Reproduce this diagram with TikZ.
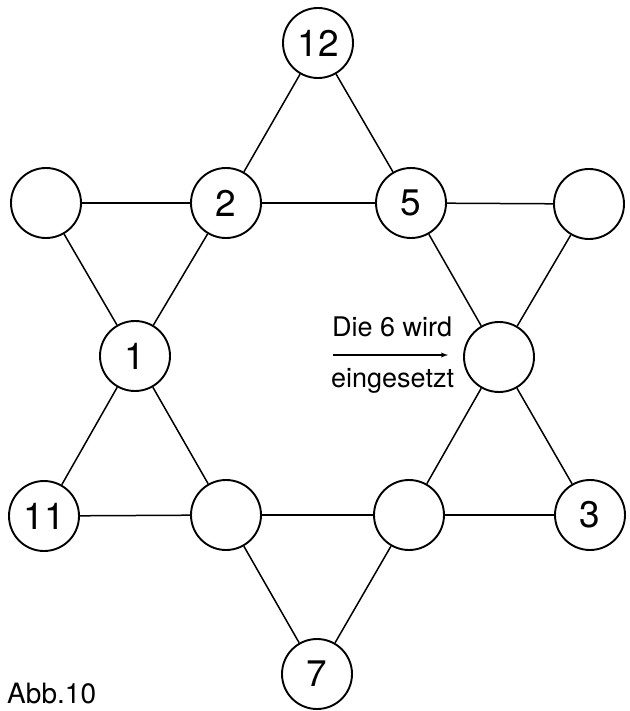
\documentclass[tikz,border=0pt]{standalone}
\usepackage{fontspec}
\setmainfont{TeX Gyre Heros}
\usetikzlibrary{arrows,shapes,positioning}

\begin{document}
\begin{tikzpicture}[x=1pt,y=-1pt]
                \tikzstyle{every node}+=[inner sep=0pt]
                \tikzstyle{field}=[draw=black,circle,line width=1.9pt,minimum size=70pt,font=\fontsize{37}{37}\selectfont]
                \tikzstyle{link}=[black,line width=1.5pt]
                \useasboundingbox (0,0) rectangle (629,711);
                \node [field] (v1) at (318,43) {12};
                \node [field] (v2) at (46,203) {};
                \node [field] (v3) at (226,203) {2};
                \node [field] (v4) at (411,203) {5};
                \node [field] (v5) at (589,204) {};
                \node [field] (v6) at (135,356) {1};
                \node [field] (v7) at (499,357) {};
                \node [field] (v8) at (44,516) {11};
                \node [field] (v9) at (226,515) {};
                \node [field] (v10) at (409,515) {};
                \node [field] (v11) at (590,515) {3};
                \node [field] (v12) at (317,674) {7};
                \draw [link] (v1) -- (v3);
                \draw [link] (v3) -- (v6);
                \draw [link] (v6) -- (v8);
                \draw [link] (v8) -- (v9);
                \draw [link] (v9) -- (v10);
                \draw [link] (v10) -- (v11);
                \draw [link] (v11) -- (v7);
                \draw [link] (v7) -- (v4);
                \draw [link] (v4) -- (v1);
                \draw [link] (v2) -- (v3);
                \draw [link] (v3) -- (v4);
                \draw [link] (v4) -- (v5);
                \draw [link] (v5) -- (v7);
                \draw [link] (v7) -- (v10);
                \draw [link] (v10) -- (v12);
                \draw [link] (v12) -- (v9);
                \draw [link] (v9) -- (v6);
                \draw [link] (v6) -- (v2);
                \node [anchor=base west,font=\fontsize{27}{27}\selectfont] (upper) at (332,336) {Die 6 wird};
                \node [anchor=base west,font=\fontsize{27}{27}\selectfont] (lower) at (331,387) {eingesetzt};
                \coordinate (tail) at (333,355);
                \coordinate (head) at (448,355);
                \draw [black,line width=1.3pt,-latex] (tail) -- (head);
                \node [anchor=base west,font=\fontsize{28}{28}\selectfont] (caption) at (7,703) {Abb.10};
\end{tikzpicture}
\end{document}
